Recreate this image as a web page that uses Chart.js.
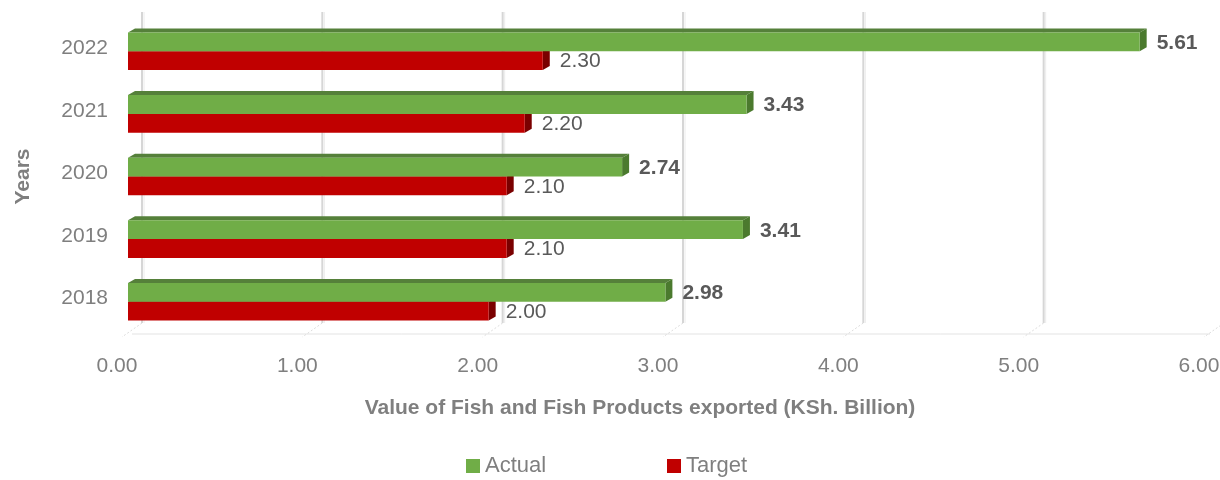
<!DOCTYPE html>
<html>
<head>
<meta charset="utf-8">
<script src="https://cdn.jsdelivr.net/npm/chart.js@4"></script>
<style>
  html, body { margin: 0; padding: 0; background: #fff; }
</style>
</head>
<body>
<canvas id="fishChart" width="1220" height="480"></canvas>
<script>
const years = ['2022', '2021', '2020', '2019', '2018'];
const actual = [5.61, 3.43, 2.74, 3.41, 2.98];
const target = [2.30, 2.20, 2.10, 2.10, 2.00];
const xTicks = [0, 1, 2, 3, 4, 5, 6];

const FONT = "'Liberation Sans', Arial, sans-serif";
const depth = { dx: 7, dy: 4 };
const wallShift = 14;

// back wall gridlines + floor, drawn before the bars
const backWall = {
    id: 'backWall',
    beforeDatasetsDraw(chart) {
        const ctx = chart.ctx;
        const area = chart.chartArea;
        const xs = chart.scales.x;
        ctx.save();
        ctx.strokeStyle = '#e3e3e3';
        ctx.lineWidth = 1;
        ctx.beginPath();
        ctx.moveTo(area.left + 4, area.bottom + 1);
        ctx.lineTo(area.right, area.bottom + 1);
        ctx.stroke();
        xTicks.forEach(v => {
            const gx = xs.getPixelForValue(v) + wallShift;
            ctx.strokeStyle = '#d6d6d6';
            ctx.lineWidth = 2;
            ctx.beginPath();
            ctx.moveTo(gx, area.top - 8);
            ctx.lineTo(gx, area.bottom - 10);
            ctx.stroke();
            ctx.strokeStyle = '#ececec';
            ctx.lineWidth = 1;
            ctx.beginPath();
            ctx.moveTo(gx + 2, area.top - 8);
            ctx.lineTo(gx + 2, area.bottom - 10);
            ctx.stroke();
            ctx.strokeStyle = '#dcdcdc';
            ctx.setLineDash([2, 2]);
            ctx.beginPath();
            ctx.moveTo(gx, area.bottom - 10);
            ctx.lineTo(gx - 20, area.bottom + 4);
            ctx.stroke();
            ctx.setLineDash([]);
        });
        ctx.restore();
    }
};

// top and side faces give the bars their depth
const barDepth = {
    id: 'barDepth',
    beforeDatasetsDraw(chart) {
        const ctx = chart.ctx;
        ctx.save();
        for (let d = chart.data.datasets.length - 1; d >= 0; d--) {
            const ds = chart.data.datasets[d];
            chart.getDatasetMeta(d).data.forEach(bar => {
                const { x, y, base, height } = bar.getProps(['x', 'y', 'base', 'height'], true);
                const top = y - height / 2;
                const bottom = y + height / 2;
                ctx.fillStyle = ds.topColor;
                ctx.beginPath();
                ctx.moveTo(base, top);
                ctx.lineTo(base + depth.dx, top - depth.dy);
                ctx.lineTo(x + depth.dx, top - depth.dy);
                ctx.lineTo(x, top);
                ctx.closePath();
                ctx.fill();
                ctx.fillStyle = ds.sideColor;
                ctx.beginPath();
                ctx.moveTo(x, top);
                ctx.lineTo(x + depth.dx, top - depth.dy);
                ctx.lineTo(x + depth.dx, bottom - depth.dy);
                ctx.lineTo(x, bottom);
                ctx.closePath();
                ctx.fill();
            });
        }
        ctx.restore();
    }
};

const valueLabels = {
    id: 'valueLabels',
    afterDatasetsDraw(chart) {
        const ctx = chart.ctx;
        ctx.save();
        ctx.textBaseline = 'middle';
        ctx.textAlign = 'left';
        chart.data.datasets.forEach((ds, d) => {
            ctx.font = (ds.boldLabel ? 'bold ' : '') + '21px ' + FONT;
            ctx.fillStyle = '#595959';
            chart.getDatasetMeta(d).data.forEach((bar, i) => {
                ctx.fillText(ds.data[i].toFixed(2), bar.x + 17, bar.y + 1);
            });
        });
        ctx.restore();
    }
};

// axis title sits left of the plot centre, legend below it
const bottomText = {
    id: 'bottomText',
    afterDraw(chart) {
        const ctx = chart.ctx;
        ctx.save();
        ctx.textBaseline = 'middle';
        ctx.textAlign = 'center';
        ctx.font = 'bold 21px ' + FONT;
        ctx.fillStyle = '#7f7f7f';
        ctx.fillText('Value of Fish and Fish Products exported (KSh. Billion)', 640, 408);

        const y = 466;
        let x = chart.width / 2 - 144;
        ctx.textAlign = 'left';
        ctx.font = '22px ' + FONT;
        chart.data.datasets.forEach(ds => {
            ctx.fillStyle = ds.backgroundColor;
            ctx.fillRect(x, y - 7, 14, 14);
            ctx.fillStyle = '#7f7f7f';
            ctx.fillText(ds.label, x + 19, y);
            x += 201;
        });
        ctx.restore();
    }
};

new Chart(document.getElementById('fishChart'), {
    type: 'bar',
    data: {
        labels: years,
        datasets: [{
            label: 'Actual',
            data: actual,
            backgroundColor: '#70ad47',
            topColor: '#55803a',
            sideColor: '#4b7a2e',
            boldLabel: true
        }, {
            label: 'Target',
            data: target,
            backgroundColor: '#c00000',
            topColor: '#8f0000',
            sideColor: '#7a0000',
            boldLabel: false
        }]
    },
    options: {
        indexAxis: 'y',
        responsive: false,
        animation: false,
        devicePixelRatio: 1,
        barPercentage: 1,
        categoryPercentage: 0.6,
        layout: { padding: { top: 20, right: 10, bottom: 0, left: 0 } },
        plugins: {
            legend: { display: false },
            tooltip: { enabled: false }
        },
        scales: {
            x: {
                min: 0,
                max: 6,
                afterBuildTicks: s => { s.ticks = xTicks.map(v => ({ value: v })); },
                afterFit: s => { s.paddingLeft = 0; s.paddingRight = 0; s.height = 147; },
                grid: { display: false, drawTicks: false },
                border: { display: false },
                ticks: {
                    padding: 21,
                    labelOffset: -11,
                    color: '#7f7f7f',
                    font: { family: FONT, size: 21 },
                    callback: v => v.toFixed(2)
                }
            },
            y: {
                afterFit: s => { s.width = 128; s.paddingTop = 0; s.paddingBottom = 0; },
                grid: { display: false, drawTicks: false },
                border: { display: false },
                ticks: {
                    padding: 20,
                    labelOffset: -3,
                    color: '#7f7f7f',
                    font: { family: FONT, size: 21 }
                },
                title: {
                    display: true,
                    text: 'Years',
                    color: '#7f7f7f',
                    font: { family: FONT, size: 21, weight: 'bold' },
                    padding: { top: 11, bottom: 0 }
                }
            }
        }
    },
    plugins: [backWall, barDepth, valueLabels, bottomText]
});
</script>
</body>
</html>
